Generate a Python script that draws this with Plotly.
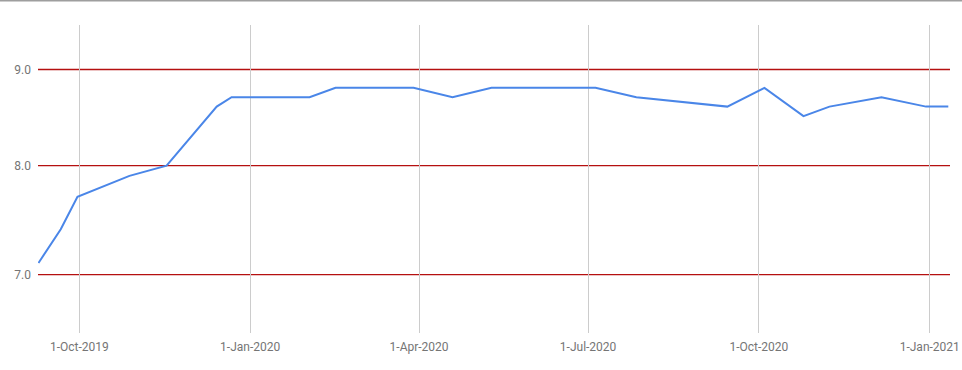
import plotly.graph_objects as go
import math

dates = ["2019-09-09", "2019-09-21", "2019-09-30", "2019-10-28", "2019-11-17",
         "2019-12-14", "2019-12-22", "2020-02-02", "2020-02-16", "2020-03-29",
         "2020-04-19", "2020-05-10", "2020-07-05", "2020-07-27", "2020-09-14",
         "2020-10-04", "2020-10-25", "2020-11-08", "2020-12-06", "2020-12-30",
         "2021-01-11"]
values = [7.1, 7.4, 7.7, 7.9, 8.0, 8.6, 8.7, 8.7, 8.8, 8.8, 8.7, 8.8, 8.8,
          8.7, 8.6, 8.8, 8.5, 8.6, 8.7, 8.6, 8.6]

x_tickvals = ["2019-10-01", "2020-01-01", "2020-04-01", "2020-07-01",
              "2020-10-01", "2021-01-01"]
x_ticktext = ["1-Oct-2019", "1-Jan-2020", "1-Apr-2020", "1-Jul-2020",
              "1-Oct-2020", "1-Jan-2021"]
y_tickvals = [7, 8, 9]
y_ticktext = ["7.0", "8.0", "9.0"]
x_range = ["2019-09-08 18:00", "2021-01-11 22:00"]
y_range = [6.5163, 9.5046]

W, H = 962, 370
ml, mr, mt, mb = 38, 12, 25, 37
pw = W - ml - mr
ph = H - mt - mb

fig = go.Figure()
fig.add_trace(go.Scatter(
    x=dates, y=values, mode="lines",
    line=dict(color="#4a86e8", width=2),
    showlegend=False, hoverinfo="x+y",
))

shapes = [dict(
    type="line", xref="paper", yref="paper",
    x0=-ml / pw, x1=1 + mr / pw,
    y0=1 + (mt - 0.5) / ph, y1=1 + (mt - 0.5) / ph,
    line=dict(color="#9e9e9e", width=2),
)]
for v in y_tickvals:
    shapes.append(dict(
        type="line", xref="paper", yref="y",
        x0=0, x1=1, y0=v, y1=v,
        line=dict(color="#b51010", width=1.3),
        layer="below",
    ))

fig.update_layout(
    width=W, height=H,
    margin=dict(l=ml, r=mr, t=mt, b=mb, pad=0, autoexpand=False),
    paper_bgcolor="white", plot_bgcolor="white",
    font=dict(family="Roboto, Arial, sans-serif", size=12, color="#757575"),
    xaxis=dict(
        type="date",
        range=x_range,
        tickvals=x_tickvals, ticktext=x_ticktext,
        showgrid=True, gridcolor="#cccccc", gridwidth=1,
        zeroline=False, showline=False, ticks="",
        ticklabelstandoff=5, automargin=False,
    ),
    yaxis=dict(
        type="log",
        range=[math.log10(v) for v in y_range],
        tickvals=y_tickvals, ticktext=y_ticktext,
        showgrid=False,
        zeroline=False, showline=False, ticks="",
        ticklabelstandoff=6, automargin=False,
    ),
    shapes=shapes,
)

fig.write_html("out.html")
